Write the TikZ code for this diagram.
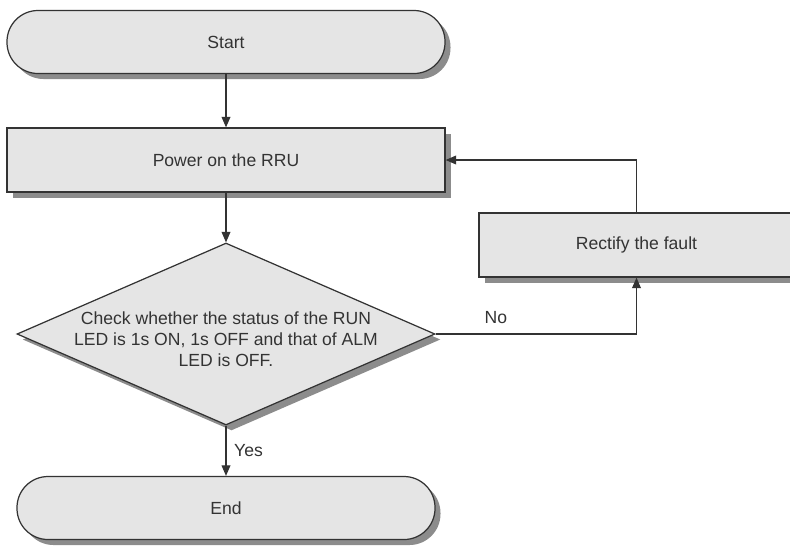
\documentclass[tikz,border=0pt]{standalone}
\usepackage{fontspec}
\setmainfont{Liberation Sans}
\usetikzlibrary{shapes.geometric, shadows, arrows.meta}

\begin{document}
\begin{tikzpicture}[
    every node/.style={text=black!80},
    flecha/.style={draw=black!80, line width=0.7pt, -{Triangle[length=6pt, width=5pt]}},
    sombra/.style={drop shadow={shadow xshift=0.11cm, shadow yshift=-0.11cm, fill=black!45, opacity=1}},
    terminal/.style={draw=black!80, line width=0.7pt, fill=black!10, sombra,
        rectangle, rounded corners=0.62cm, minimum width=8.76cm, minimum height=1.26cm},
    proceso/.style={draw=black!80, line width=0.7pt, fill=black!10, sombra,
        rectangle, minimum width=8.76cm, minimum height=1.28cm},
    decision/.style={draw=black!80, line width=0.7pt, fill=black!10, sombra,
        diamond, inner sep=0pt, minimum width=8.36cm, minimum height=3.64cm}
]
    % Marco del dibujo
    \clip (0,0) rectangle (15.8,-10.96);

    % Pasos principales
    \node[terminal] (start) at (4.52,-0.84) {Start};
    \node[proceso]  (power) at (4.52,-3.2)  {Power on the RRU};
    \node[decision] (check) at (4.52,-6.68) {};
    \node[align=center] (checktxt) at (4.52,-6.78)
        {Check whether the status of the RUN\\LED is 1s ON, 1s OFF and that of ALM\\LED is OFF.};
    \node[terminal, minimum width=8.36cm] (end) at (4.52,-10.16) {End};

    % Rama de fallo
    \node[proceso, minimum width=6.3cm] (fix) at (12.73,-4.9) {Rectify the fault};

    % Conexiones
    \draw[flecha] (start) -- (power);
    \draw[flecha] (power) -- (check);
    \draw[flecha] (check) -- node[midway, right=1pt] {Yes} (end);
    \draw[flecha] (check.east) -| node[pos=0.15, above=2pt] {No} (fix.south);
    \draw[flecha] (fix.north) |- (power.east);
\end{tikzpicture}
\end{document}
